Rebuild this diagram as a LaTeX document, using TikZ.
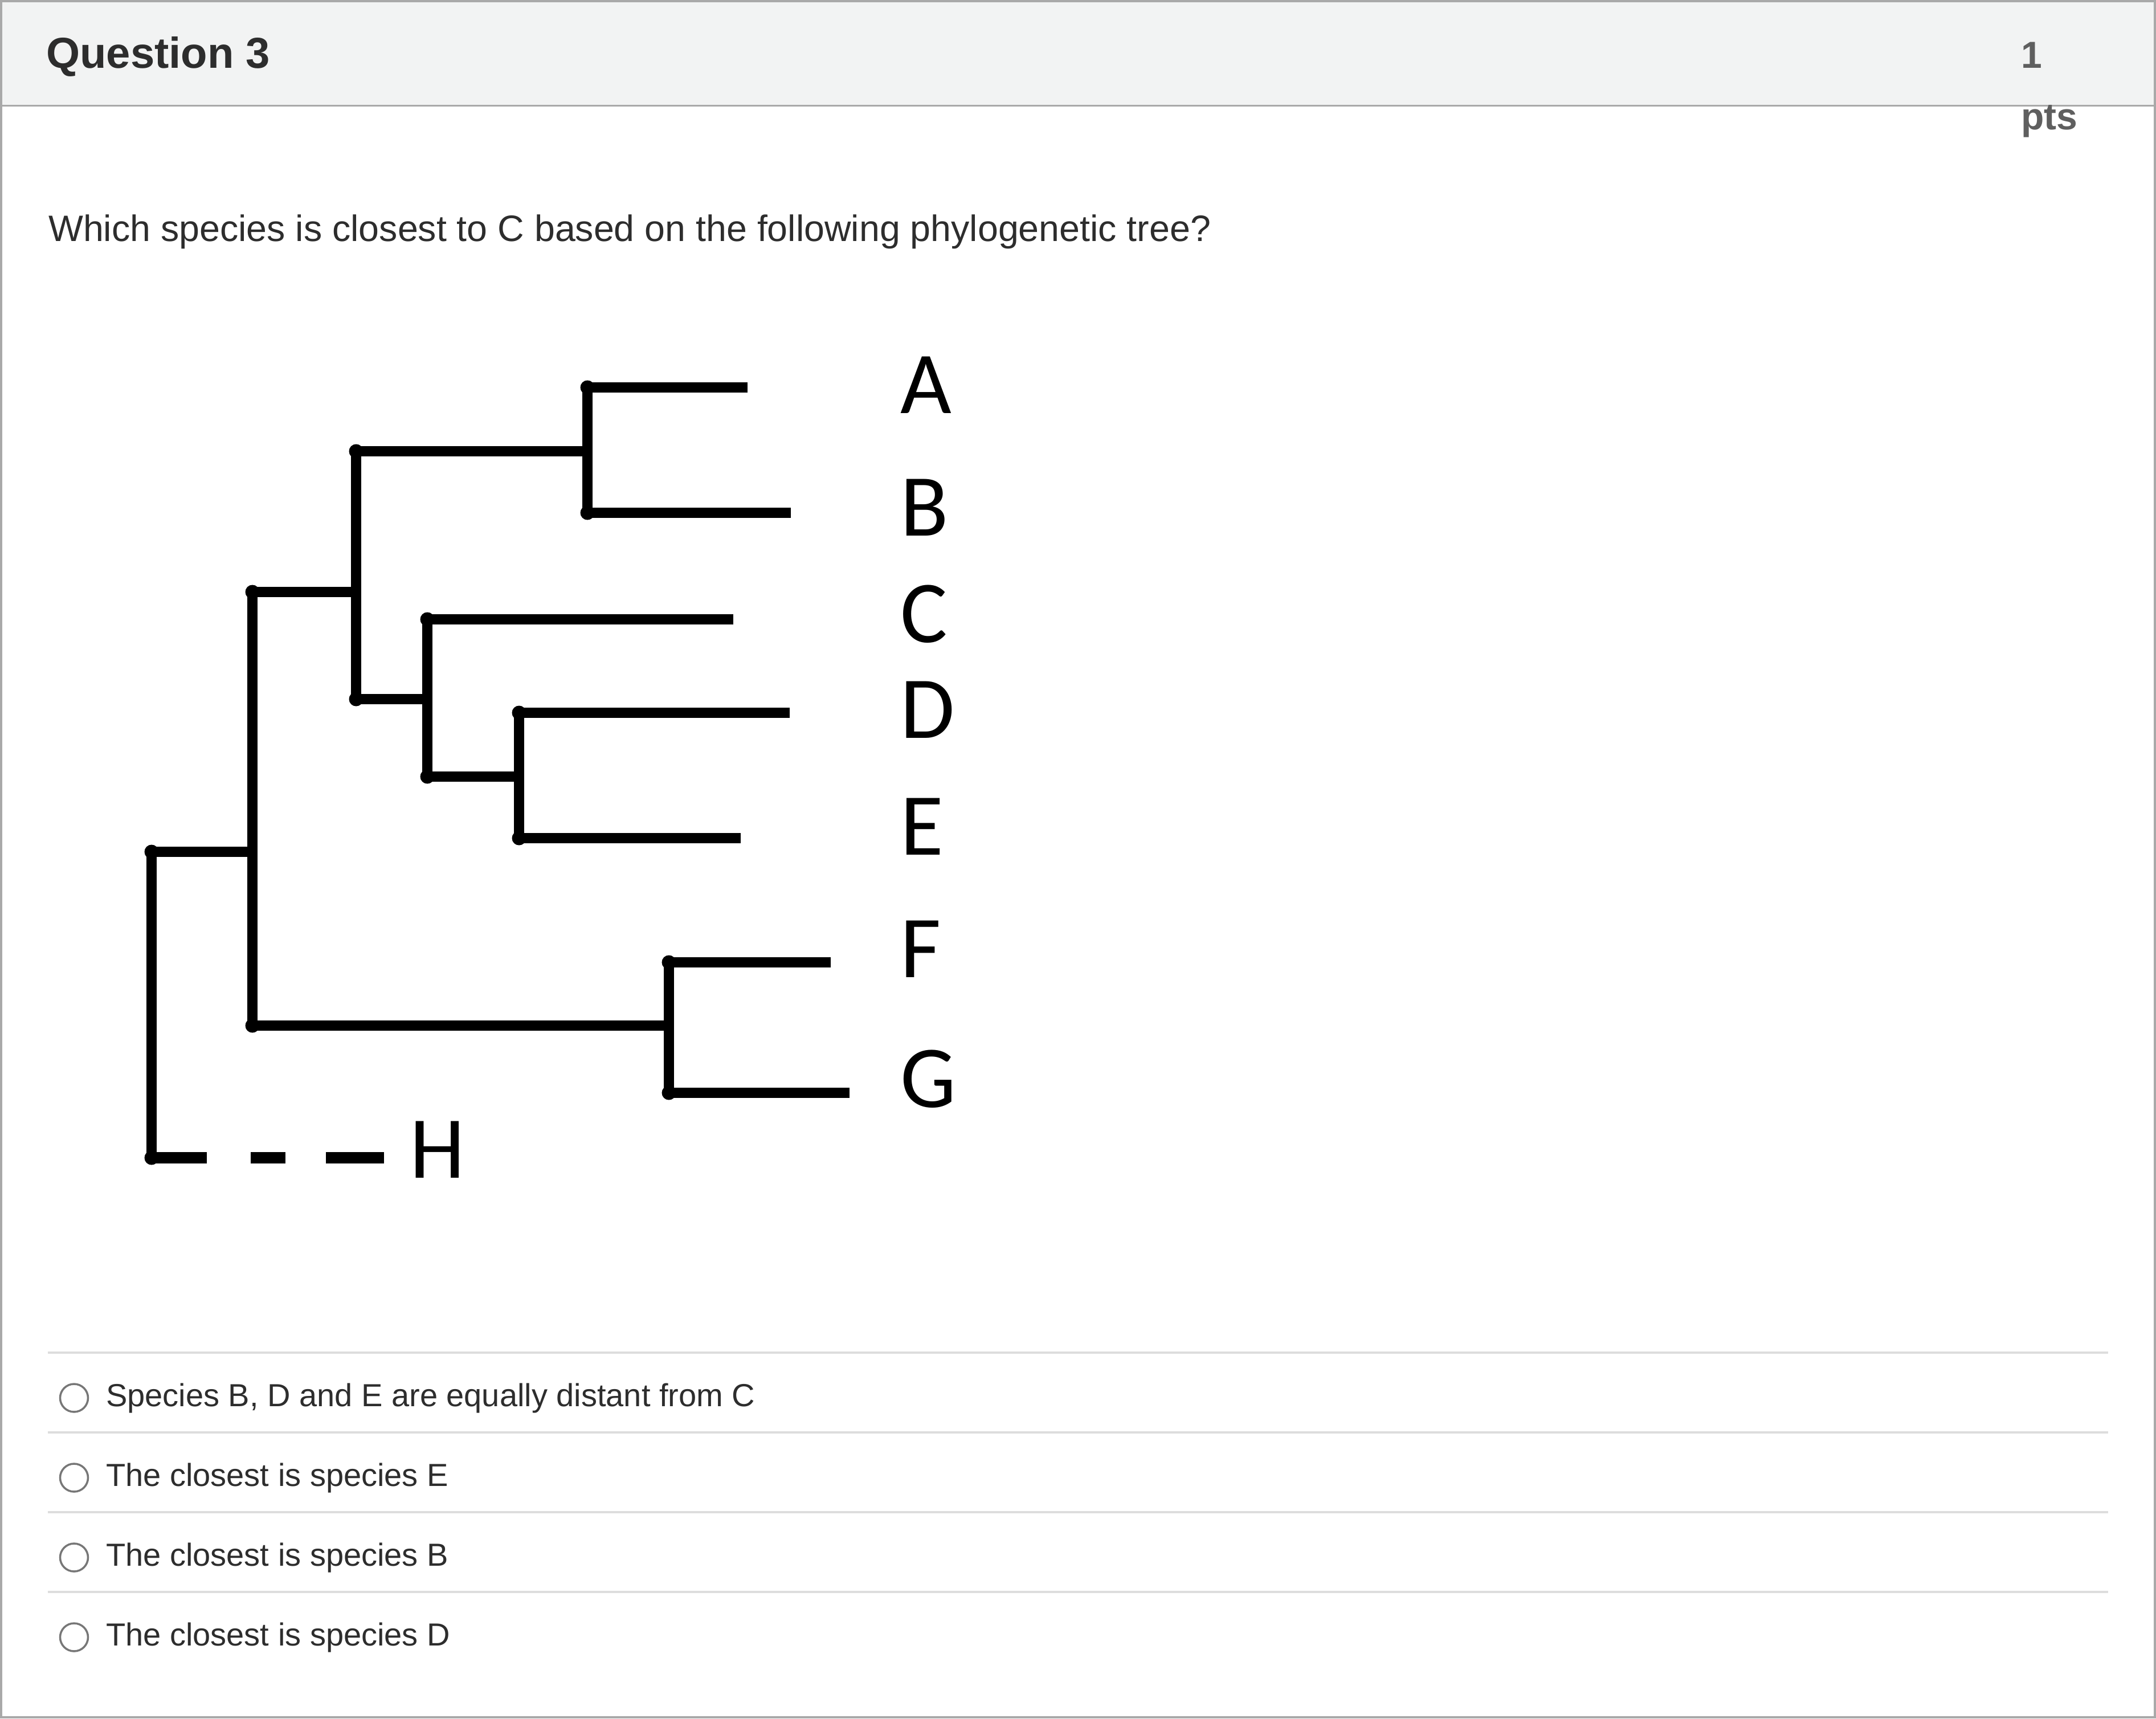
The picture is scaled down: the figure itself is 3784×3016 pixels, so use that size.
\documentclass[tikz,border=0pt]{standalone}
\usepackage{fontspec}
\setmainfont{Liberation Sans}
\newfontfamily\treefont{Carlito}
\definecolor{hdrfill}{HTML}{F2F3F3}
\definecolor{bordergray}{HTML}{A9A9A9}
\definecolor{sepgray}{HTML}{DDDDDD}
\definecolor{radiogray}{HTML}{777777}
\definecolor{textdark}{HTML}{2D2D2D}
\definecolor{ptsgray}{HTML}{5F5F5F}
\begin{document}
\begin{tikzpicture}[x=1pt,y=-1pt,
  branch/.style={line width=18pt, line join=round, line cap=butt, black},
  knot/.style={circle, fill=black, inner sep=0pt, minimum size=25pt},
  leaflabel/.style={anchor=base west, inner sep=0pt, font=\treefont\fontsize{155}{160}\selectfont},
  uitext/.style={anchor=base west, inner sep=0pt, text=textdark},
  opttext/.style={uitext, font=\fontsize{56}{60}\selectfont},
  radio/.style={draw=radiogray, line width=3.5pt},
  sepline/.style={draw=sepgray, line width=4pt}]
\useasboundingbox (0,0) rectangle (3784,3016);
\fill[white] (0,0) rectangle (3784,3016);
% header
\fill[hdrfill] (0,0) rectangle (3784,186);
\draw[bordergray, line width=3.5pt] (0,185.5) -- (3784,185.5);
\draw[bordergray, line width=4pt] (2,2) rectangle (3782,3014);
\node[uitext, font=\fontsize{76}{80}\selectfont\bfseries] (qtitle) at (81,120) {Question 3};
\node[anchor=base west, inner sep=0pt, text=ptsgray, font=\fontsize{66}{70}\selectfont\bfseries] (ptsnum) at (3547,120) {1};
\node[anchor=base west, inner sep=0pt, text=ptsgray, font=\fontsize{66}{70}\selectfont\bfseries] (ptsword) at (3547,227) {pts};
\node[uitext, font=\fontsize{64.5}{68}\selectfont] (question) at (85,423) {Which species is closest to C based on the following phylogenetic tree?};
% tree coordinates
\coordinate (root) at (266,1495);
\coordinate (rootH) at (266,2032);
\coordinate (Hend) at (674,2032);
\coordinate (n1) at (443,1495);
\coordinate (n1t) at (443,1039);
\coordinate (n1b) at (443,1800);
\coordinate (n2) at (625,1039);
\coordinate (n2t) at (625,792);
\coordinate (n2b) at (625,1227);
\coordinate (nAB) at (1031,792);
\coordinate (nA) at (1031,680);
\coordinate (nB) at (1031,900);
\coordinate (Aend) at (1312,680);
\coordinate (Bend) at (1388,900);
\coordinate (nCDE) at (750,1227);
\coordinate (nC) at (750,1087);
\coordinate (nDEc) at (750,1363);
\coordinate (Cend) at (1287,1087);
\coordinate (nDE) at (911,1363);
\coordinate (nD) at (911,1251);
\coordinate (nE) at (911,1471);
\coordinate (Dend) at (1386,1251);
\coordinate (Eend) at (1300,1471);
\coordinate (nFG) at (1174,1800);
\coordinate (nF) at (1174,1689);
\coordinate (nG) at (1174,1918);
\coordinate (Fend) at (1458,1689);
\coordinate (Gend) at (1491,1918);
% branches
\draw[branch] (rootH) -- (root) -- (n1);
\draw[branch] (n2) -- (n1t) -- (n1b) -- (nFG);
\draw[branch] (nAB) -- (n2t) -- (n2b) -- (nCDE);
\draw[branch] (Aend) -- (nA) -- (nB) -- (Bend);
\draw[branch] (Cend) -- (nC) -- (nDEc) -- (nDE);
\draw[branch] (Dend) -- (nD) -- (nE) -- (Eend);
\draw[branch] (Fend) -- (nF) -- (nG) -- (Gend);
\draw[branch, line width=20pt, dash pattern=on 97pt off 77pt on 61pt off 71pt on 102pt off 200pt] (rootH) -- (Hend);
% corner knots
\foreach \k in {root,rootH,n1t,n1b,n2t,n2b,nA,nB,nC,nDEc,nD,nE,nF,nG}
  \node[knot] (k-\k) at (\k) {};
% leaf labels
\node[leaflabel] (labA) at (1580,725) {A};
\node[leaflabel] (labB) at (1580,940) {B};
\node[leaflabel] (labC) at (1580,1127) {C};
\node[leaflabel] (labD) at (1580,1295) {D};
\node[leaflabel] (labE) at (1580,1500) {E};
\node[leaflabel] (labF) at (1580,1715) {F};
\node[leaflabel] (labG) at (1580,1943) {G};
\node[leaflabel] (labH) at (719,2067) {H};
% answer options
\draw[sepline] (84,2374) -- (3700,2374);
\draw[sepline] (84,2514) -- (3700,2514);
\draw[sepline] (84,2654) -- (3700,2654);
\draw[sepline] (84,2794) -- (3700,2794);
\draw[radio] (130,2453.5) circle (24.5);
\draw[radio] (130,2593.5) circle (24.5);
\draw[radio] (130,2733.5) circle (24.5);
\draw[radio] (130,2873.5) circle (24.5);
\node[opttext] (opt1) at (186,2468) {Species B, D and E are equally distant from C};
\node[opttext] (opt2) at (186,2608) {The closest is species E};
\node[opttext] (opt3) at (186,2748) {The closest is species B};
\node[opttext] (opt4) at (186,2888) {The closest is species D};
\end{tikzpicture}
\end{document}
